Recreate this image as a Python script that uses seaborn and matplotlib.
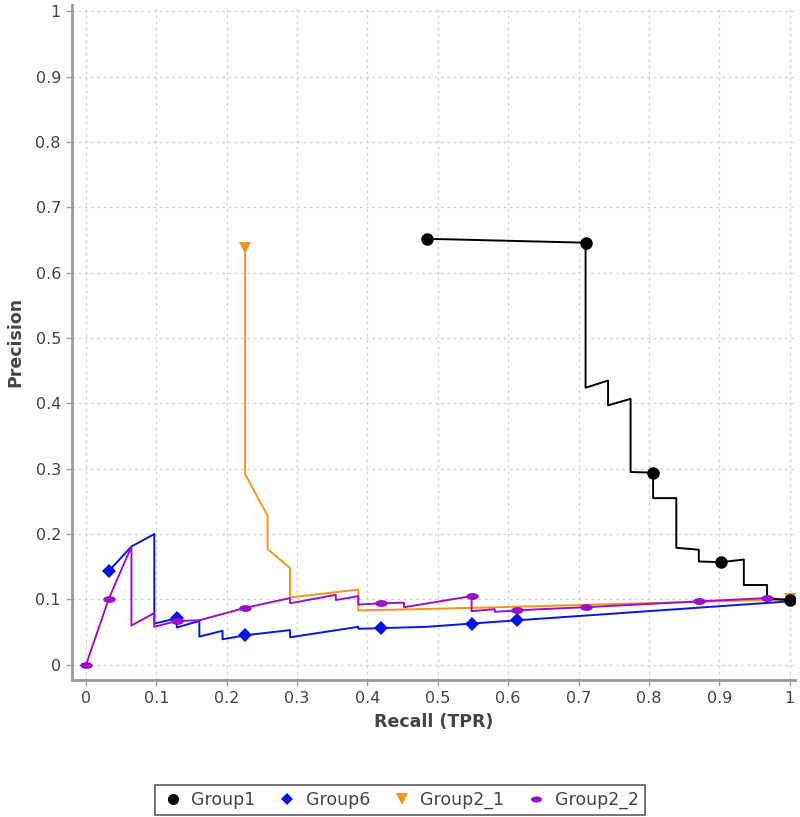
import numpy as np
import pandas as pd
import matplotlib
matplotlib.use("Agg")
import matplotlib.pyplot as plt
from matplotlib.path import Path
from matplotlib.lines import Line2D
import seaborn as sns

# ---------------- data ----------------
g1_recall = [0.484, 0.710, 0.710, 0.742, 0.742, 0.774, 0.774, 0.806, 0.806, 0.839,
             0.839, 0.871, 0.871, 0.903, 0.935, 0.935, 0.968, 0.968, 1.000]
g1_precision = [0.652, 0.646, 0.424, 0.435, 0.397, 0.407, 0.295, 0.294, 0.255, 0.255,
                0.179, 0.176, 0.158, 0.157, 0.161, 0.122, 0.122, 0.101, 0.099]
g1_marks = [0, 1, 7, 13, 18]

g6_recall = [0.032, 0.0645, 0.097, 0.097, 0.129, 0.129, 0.161, 0.161, 0.194, 0.194,
             0.226, 0.290, 0.290, 0.387, 0.387, 0.419, 0.452, 0.484, 0.548, 0.613, 1.000]
g6_precision = [0.143, 0.181, 0.200, 0.063, 0.071, 0.057, 0.067, 0.043, 0.052, 0.039,
                0.045, 0.053, 0.042, 0.058, 0.055, 0.056, 0.057, 0.058, 0.063, 0.068, 0.097]
g6_marks = [0, 4, 10, 15, 18, 19]

g21_recall = [0.226, 0.226, 0.258, 0.258, 0.290, 0.290, 0.387, 0.387, 0.548, 1.000]
g21_precision = [0.638, 0.292, 0.228, 0.177, 0.148, 0.103, 0.115, 0.083, 0.087, 0.100]
g21_marks = [0, 9]

g22_recall = [0.0, 0.032, 0.0645, 0.0645, 0.097, 0.097, 0.129, 0.161, 0.226, 0.290,
              0.290, 0.355, 0.355, 0.387, 0.387, 0.419, 0.452, 0.452, 0.548, 0.548,
              0.581, 0.581, 0.613, 0.645, 0.710, 0.871, 0.968, 1.000]
g22_precision = [0.0, 0.100, 0.181, 0.060, 0.079, 0.058, 0.067, 0.068, 0.087, 0.102,
                 0.094, 0.107, 0.099, 0.105, 0.092, 0.094, 0.095, 0.088, 0.105, 0.082,
                 0.085, 0.081, 0.083, 0.085, 0.088, 0.097, 0.102, 0.099]
g22_marks = [0, 1, 6, 8, 15, 18, 22, 24, 25, 26]

tick_values = [0, 0.1, 0.2, 0.3, 0.4, 0.5, 0.6, 0.7, 0.8, 0.9, 1]
tick_labels = ["0", "0.1", "0.2", "0.3", "0.4", "0.5", "0.6", "0.7", "0.8", "0.9", "1"]
series_names = ["Group1", "Group6", "Group2_1", "Group2_2"]

# ---------------- style ----------------
sns.set_theme(style="white")
plt.rcParams["font.family"] = ["DejaVu Sans"]

# ellipse marker for Group2_2
t = np.linspace(0, 2 * np.pi, 40)
ellipse = Path(np.column_stack([np.cos(t), 0.55 * np.sin(t)]), closed=True)

colors = {"Group1": "#000000", "Group6": "#0a14e6", "Group2_1": "#f7931e", "Group2_2": "#9b10c8"}
markers = {"Group1": "o", "Group6": "D", "Group2_1": "v", "Group2_2": ellipse}
msizes = {"Group1": 9, "Group6": 7, "Group2_1": 9, "Group2_2": 9}

data = {
    "Group1": (g1_recall, g1_precision, g1_marks),
    "Group6": (g6_recall, g6_precision, g6_marks),
    "Group2_1": (g21_recall, g21_precision, g21_marks),
    "Group2_2": (g22_recall, g22_precision, g22_marks),
}

fig = plt.figure(figsize=(8.0, 8.17), dpi=100)
ax = fig.add_axes([0.09, 0.168, 0.904, 0.826])

draw_order = ["Group6", "Group2_1", "Group2_2", "Group1"]
for name in draw_order:
    xr, yr, mk = data[name]
    df = pd.DataFrame({"Recall": xr, "Precision": yr})
    sns.lineplot(data=df, x="Recall", y="Precision", sort=False, estimator=None,
                 color=colors[name], linewidth=1.4, ax=ax, zorder=3)
    dm = df.iloc[mk]
    ax.plot(dm["Recall"], dm["Precision"], linestyle="none", marker=markers[name],
            markersize=msizes[name], color=colors[name], markeredgewidth=0, zorder=4)

ax.set_xlim(-0.02, 1.008)
ax.set_ylim(-0.023, 1.01)
ax.set_xticks(tick_values)
ax.set_xticklabels(tick_labels)
ax.set_yticks(tick_values)
ax.set_yticklabels(tick_labels)
ax.grid(True, color="#cfcfcf", linestyle=(0, (2, 3)), linewidth=0.9)
ax.set_axisbelow(True)

for s in ["top", "right"]:
    ax.spines[s].set_visible(False)
for s in ["left", "bottom"]:
    ax.spines[s].set_color("#9a9a9a")
    ax.spines[s].set_linewidth(2.0)

ax.tick_params(axis="both", which="major", direction="out", length=4, width=1,
               color="#9a9a9a", labelsize=11.5, labelcolor="#444444", pad=4,
               left=True, bottom=True)

ax.set_xlabel("Recall (TPR)", fontsize=12.5, fontweight="bold", color="#444444", labelpad=5)
ax.set_ylabel("Precision", fontsize=12.5, fontweight="bold", color="#444444", labelpad=8)

handles = [Line2D([], [], linestyle="none", marker=markers[n], markersize=msizes[n] - 1,
                  color=colors[n], markeredgewidth=0) for n in series_names]
leg = fig.legend(handles, series_names, loc="center", bbox_to_anchor=(0.5, 0.021),
                 ncol=4, frameon=True, fancybox=False, fontsize=12.5, handletextpad=0.4,
                 columnspacing=1.2, borderpad=0.35, handlelength=1.3)
leg.get_frame().set_edgecolor("#333333")
leg.get_frame().set_linewidth(1.2)
for txt in leg.get_texts():
    txt.set_color("#444444")

fig.savefig("out.png", dpi=100)
